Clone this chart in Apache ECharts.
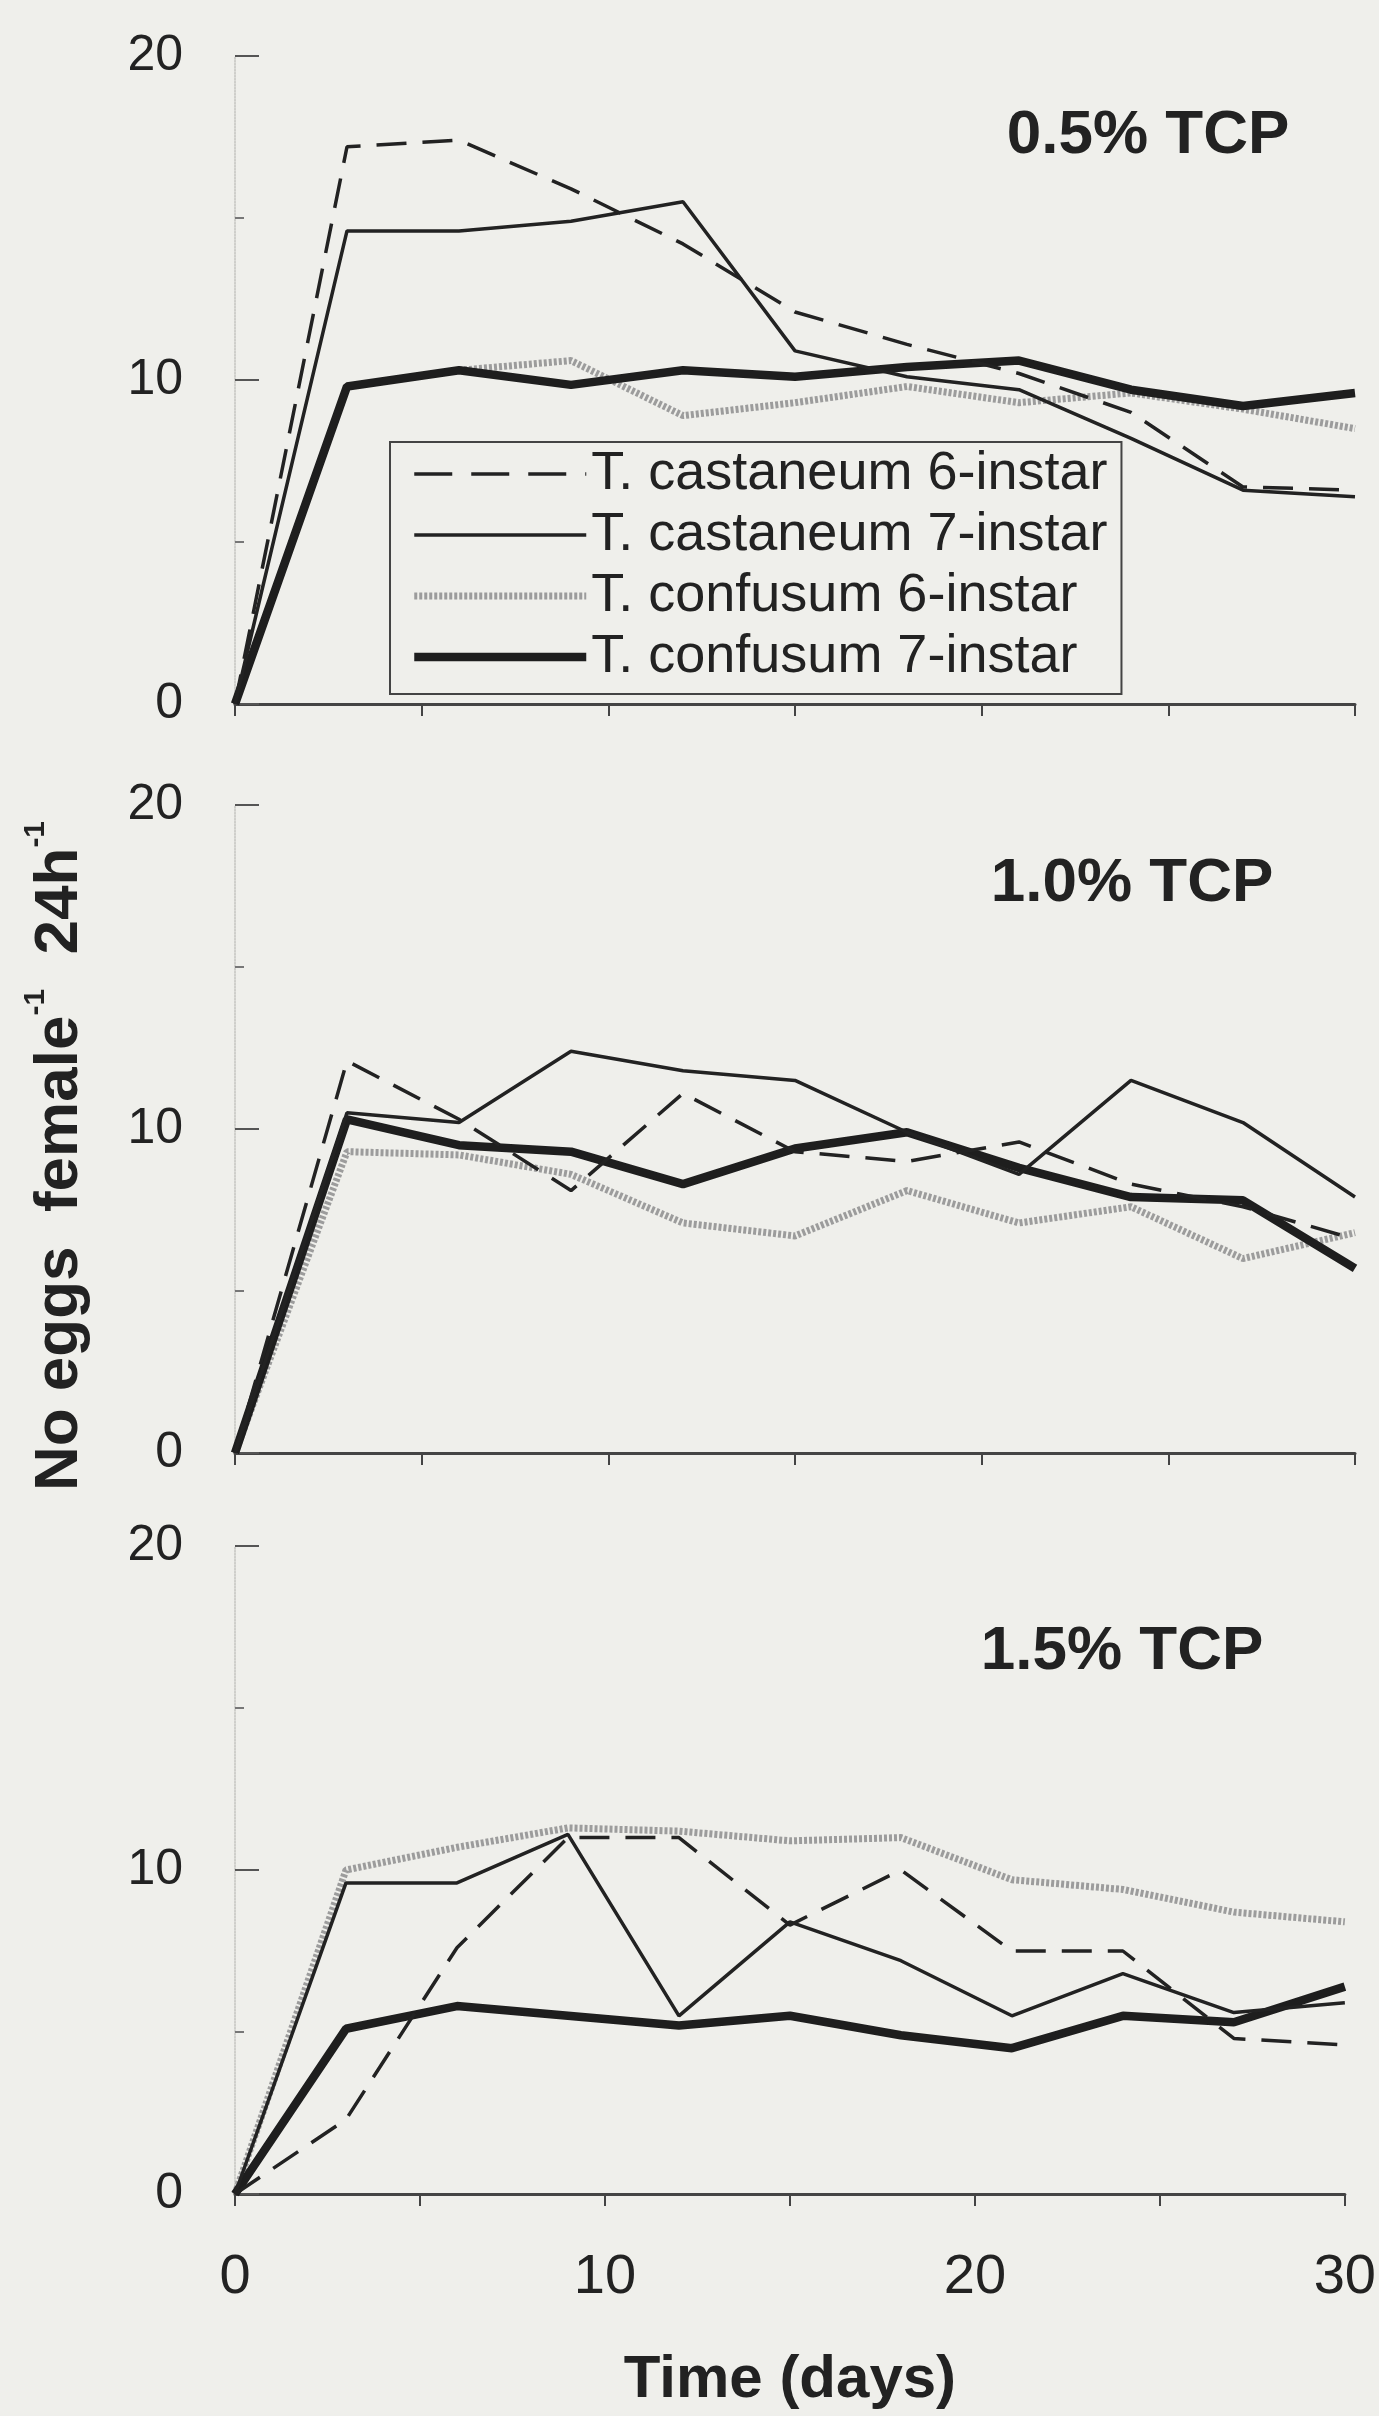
<!DOCTYPE html>
<html>
<head>
<meta charset="utf-8">
<title>Egg production over time</title>
<script src="https://cdn.jsdelivr.net/npm/echarts@6/dist/echarts.min.js"></script>
<style>
  html, body { margin: 0; padding: 0; background: #efefeb; }
  #chart { width: 1379px; height: 2416px; }
</style>
</head>
<body>
<div id="chart"></div>
<script>
var days = [0, 3, 6, 9, 12, 15, 18, 21, 24, 27, 30];
var panelTitles = ["0.5% TCP", "1.0% TCP", "1.5% TCP"];
var seriesNames = [
  "T. castaneum 6-instar",
  "T. castaneum 7-instar",
  "T. confusum 6-instar",
  "T. confusum 7-instar"
];

// 0.5% TCP
var cast6_05 = [0, 17.2, 17.4, 15.9, 14.2, 12.1, 11.1, 10.2, 9.0, 6.7, 6.6];
var cast7_05 = [0, 14.6, 14.6, 14.9, 15.5, 10.9, 10.1, 9.7, 8.2, 6.6, 6.4];
var conf6_05 = [0, 9.8, 10.3, 10.6, 8.9, 9.3, 9.8, 9.3, 9.6, 9.1, 8.5];
var conf7_05 = [0, 9.8, 10.3, 9.85, 10.3, 10.1, 10.4, 10.6, 9.7, 9.2, 9.6];

// 1.0% TCP
var cast6_10 = [0, 12.1, 10.3, 8.1, 11.1, 9.3, 9.0, 9.6, 8.3, 7.6, 6.6];
var cast7_10 = [0, 10.5, 10.2, 12.4, 11.8, 11.5, 9.9, 8.6, 11.5, 10.2, 7.9];
var conf6_10 = [0, 9.3, 9.2, 8.6, 7.1, 6.7, 8.1, 7.1, 7.6, 6.0, 6.8];
var conf7_10 = [0, 10.3, 9.5, 9.3, 8.3, 9.4, 9.9, 8.8, 7.9, 7.8, 5.7];

// 1.5% TCP
var cast6_15 = [0, 2.3, 7.6, 11.0, 11.0, 8.3, 10.0, 7.5, 7.5, 4.8, 4.6];
var cast7_15 = [0, 9.6, 9.6, 11.1, 5.5, 8.4, 7.2, 5.5, 6.8, 5.6, 5.9];
var conf6_15 = [0, 10.0, 10.7, 11.3, 11.2, 10.9, 11.0, 9.7, 9.4, 8.7, 8.4];
var conf7_15 = [0, 5.1, 5.8, 5.5, 5.2, 5.5, 4.9, 4.5, 5.5, 5.3, 6.4];

var panels = [
  [cast6_05, cast7_05, conf6_05, conf7_05],
  [cast6_10, cast7_10, conf6_10, conf7_10],
  [cast6_15, cast7_15, conf6_15, conf7_15]
];

var font = "'Liberation Sans', Arial, Helvetica, sans-serif";
var ink = "#222";
var bg = "#efefeb";

var lineStyles = [
  { color: "#222", width: 3.5, type: [30, 16] },
  { color: "#222", width: 3.5, type: "solid" },
  { color: "#9c9c9c", width: 7, type: [3, 2] },
  { color: "#1e1e1e", width: 8.5, type: "solid" }
];
// legend samples are drawn a bit longer-dashed, as in the original key
var legendLineTypes = [[38, 19], "solid", [3, 2], "solid"];
var drawOrder = [2, 3, 1, 0];

function pairs(arr) {
  return days.map(function (d, i) { return [d, arr[i]]; });
}

var gridTops = [56, 805, 1546];
var grids = [], xAxes = [], yAxes = [], series = [];

gridTops.forEach(function (top, p) {
  grids.push({ left: 235, right: 24, top: top, height: 648 });
  var last = p === gridTops.length - 1;
  xAxes.push({
    type: "value", gridIndex: p, min: 0, max: 30, interval: 5,
    axisLine: { lineStyle: { color: "#444", width: 3 } },
    axisTick: { show: true, length: 12, lineStyle: { color: "#444", width: 2 } },
    splitLine: { show: false },
    axisLabel: {
      show: last, fontSize: 56, color: ink, fontFamily: font, margin: 56,
      formatter: function (v) { return v % 10 === 0 ? String(v) : ""; }
    },
    name: last ? "Time (days)" : "",
    nameLocation: "middle", nameGap: 156,
    nameTextStyle: { fontSize: 60, fontWeight: "bold", color: ink, fontFamily: font }
  });
  yAxes.push({
    type: "value", gridIndex: p, min: 0, max: 20, interval: 10,
    axisLine: { show: true, lineStyle: { color: "#c4c4c0", width: 1.5, type: "dotted" } },
    axisTick: { show: true, inside: true, length: 24, lineStyle: { color: "#555", width: 2 } },
    minorTick: { show: true, splitNumber: 2, length: 9, lineStyle: { color: "#777", width: 2 } },
    splitLine: { show: false },
    axisLabel: { fontSize: 50, color: ink, fontFamily: font, margin: 52 }
  });
  drawOrder.forEach(function (k) {
    series.push({
      name: seriesNames[k], type: "line",
      xAxisIndex: p, yAxisIndex: p,
      data: pairs(panels[p][k]),
      symbol: "none", smooth: false,
      lineStyle: lineStyles[k],
      itemStyle: { color: lineStyles[k].color },
      z: 2 + drawOrder.indexOf(k)
    });
  });
});

var legendData = seriesNames.map(function (name, k) {
  return {
    name: name,
    itemStyle: { opacity: 0 },
    lineStyle: {
      color: lineStyles[k].color,
      width: lineStyles[k].width,
      type: legendLineTypes[k]
    }
  };
});

var chart = echarts.init(document.getElementById("chart"));

var option = {
  backgroundColor: bg,
  animation: false,
  grid: grids,
  xAxis: xAxes,
  yAxis: yAxes,
  legend: {
    data: legendData,
    orient: "vertical",
    left: 390, top: 442,
    itemWidth: 172, itemHeight: 14, itemGap: 5,
    padding: [4, 14, 9, 20],
    borderColor: "#444", borderWidth: 2,
    backgroundColor: bg,
    selectedMode: false,
    textStyle: { fontSize: 54, lineHeight: 56, color: ink, fontFamily: font }
  },
  graphic: [
    {
      type: "text", x: 56, y: 1156, rotation: Math.PI / 2,
      style: {
        text: "{b|No eggs  female}{s|-1}{b|  24h}{s|-1}",
        align: "center", verticalAlign: "middle",
        rich: {
          b: { fontSize: 62, fontWeight: "bold", fontFamily: font, fill: ink, lineHeight: 70, verticalAlign: "bottom" },
          s: { fontSize: 30, fontWeight: "bold", fontFamily: font, fill: ink, lineHeight: 70, verticalAlign: "top" }
        }
      }
    },
    { type: "text", x: 1148, y: 136, style: { text: panelTitles[0], align: "center", verticalAlign: "middle", fontSize: 62, fontWeight: "bold", fontFamily: font, fill: ink } },
    { type: "text", x: 1132, y: 884, style: { text: panelTitles[1], align: "center", verticalAlign: "middle", fontSize: 62, fontWeight: "bold", fontFamily: font, fill: ink } },
    { type: "text", x: 1122, y: 1652, style: { text: panelTitles[2], align: "center", verticalAlign: "middle", fontSize: 62, fontWeight: "bold", fontFamily: font, fill: ink } }
  ],
  series: series
};

chart.setOption(option);
</script>
</body>
</html>
